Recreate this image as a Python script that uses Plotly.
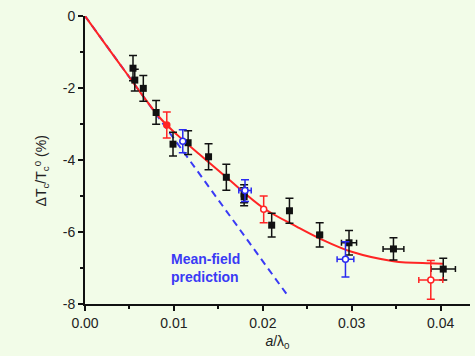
import plotly.graph_objects as go

# Black (filled squares)
blk_x = [0.0054, 0.0056, 0.00656, 0.0080, 0.0099, 0.0116, 0.0139, 0.0159, 0.0179, 0.0179, 0.0210, 0.0230, 0.0264, 0.0297, 0.0347, 0.0403]
blk_y = [-1.45, -1.78, -2.01, -2.68, -3.56, -3.52, -3.91, -4.48, -4.94, -5.02, -5.81, -5.41, -6.08, -6.30, -6.47, -7.03]
blk_ey = [0.35, 0.30, 0.36, 0.33, 0.33, 0.33, 0.36, 0.36, 0.25, 0.25, 0.33, 0.35, 0.34, 0.34, 0.31, 0.30]
blk_ex = [0, 0, 0, 0, 0, 0, 0, 0, 0, 0, 0, 0, 0.0003, 0.00085, 0.00117, 0.00137]

# Red (circles)
red_x = [0.0092, 0.0201, 0.0389]
red_y = [-3.03, -5.37, -7.33]
red_ey = [0.36, 0.37, 0.54]
red_ex = [0, 0, 0.00135]

# Blue (open circles)
blu_x = [0.0110, 0.0180, 0.0293]
blu_y = [-3.48, -4.85, -6.76]
blu_ey = [0.32, 0.30, 0.49]
blu_ex = [0, 0.0007, 0.00094]

# Fit curve (red)
fit_x = [0, 0.0044, 0.0084, 0.0105, 0.0129, 0.0159, 0.0201, 0.0238, 0.0264, 0.0300, 0.0347, 0.0388, 0.0403]
fit_y = [0, -1.50, -2.82, -3.33, -3.85, -4.48, -5.34, -5.85, -6.18, -6.55, -6.81, -6.87, -6.88]

# Mean-field prediction (blue dashed)
mf_x = [0, 0.0229]
mf_y = [0, -7.80]

BG = "#F2FCE8"
fig = go.Figure()

fig.add_trace(go.Scatter(x=mf_x, y=mf_y, mode="lines",
                         line=dict(color="#3a3af5", width=2, dash="7px,5px"), showlegend=False))
fig.add_trace(go.Scatter(x=fit_x, y=fit_y, mode="lines",
                         line=dict(color="#ff2424", width=2, shape="spline"), showlegend=False))

fig.add_trace(go.Scatter(x=blk_x, y=blk_y, mode="markers",
                         marker=dict(symbol="square", size=7, color="#111111"),
                         error_y=dict(type="data", array=blk_ey, color="#111111", thickness=1.5, width=4),
                         error_x=dict(type="data", array=blk_ex, color="#111111", thickness=1.5, width=3),
                         showlegend=False))
fig.add_trace(go.Scatter(x=red_x, y=red_y, mode="markers",
                         marker=dict(symbol="circle", size=6, color=["#ff2424", "white", "white"],
                                     line=dict(color="#ff2424", width=1.5)),
                         error_y=dict(type="data", array=red_ey, color="#ff2424", thickness=1.5, width=4),
                         error_x=dict(type="data", array=red_ex, color="#ff2424", thickness=1.5, width=3),
                         showlegend=False))
fig.add_trace(go.Scatter(x=blu_x, y=blu_y, mode="markers",
                         marker=dict(symbol="circle", size=6, color="white",
                                     line=dict(color="#2a2af0", width=1.5)),
                         error_y=dict(type="data", array=blu_ey, color="#2a2af0", thickness=1.5, width=4),
                         error_x=dict(type="data", array=blu_ex, color="#2a2af0", thickness=1.5, width=3),
                         showlegend=False))

fig.add_annotation(x=0.0094, y=-7.0, xref="x", yref="y", xanchor="left", yanchor="middle",
                   text="<b>Mean-field<br>prediction</b>", showarrow=False, align="left",
                   font=dict(family="Liberation Sans, Arial", size=14, color="#3a3af5"))

fig.add_annotation(x=-0.113, y=0.462, xref="paper", yref="paper", xanchor="center", yanchor="middle",
                   text="ΔT<sub>c</sub>/T<sub>c</sub><sup>0</sup> (%)", showarrow=False, textangle=-90,
                   font=dict(family="Liberation Sans, Arial", size=14, color="#222222"))

fig.update_layout(
    width=475, height=356,
    margin=dict(l=85, r=5, t=16, b=52),
    paper_bgcolor=BG, plot_bgcolor=BG,
    font=dict(family="Liberation Sans, Arial", size=14, color="#222222"),
    xaxis=dict(range=[0, 0.04331], tickvals=[0, 0.01, 0.02, 0.03, 0.04],
               ticktext=["0.00", "0.01", "0.02", "0.03", "0.04"],
               showgrid=False, zeroline=False, showline=True, linecolor="#111111", linewidth=2,
               ticks="outside", ticklen=5, tickwidth=1.5, tickcolor="#111111",
               minor=dict(tickvals=[0.005, 0.015, 0.025, 0.035], ticks="outside", ticklen=3,
                          tickwidth=1.5, tickcolor="#111111"),
               title=dict(text="<i>a</i>/λ<sub>0</sub>", standoff=6, font=dict(size=14))),
    yaxis=dict(range=[-8, 0], tickvals=[0, -2, -4, -6, -8], ticktext=["0", "-2", "-4", "-6", "-8"],
               showgrid=False, zeroline=False, showline=True, linecolor="#111111", linewidth=2,
               ticks="outside", ticklen=5, tickwidth=1.5, tickcolor="#111111",
               minor=dict(tickvals=[-1, -3, -5, -7], ticks="outside", ticklen=3,
                          tickwidth=1.5, tickcolor="#111111")),
)

fig.write_html("out.html")
